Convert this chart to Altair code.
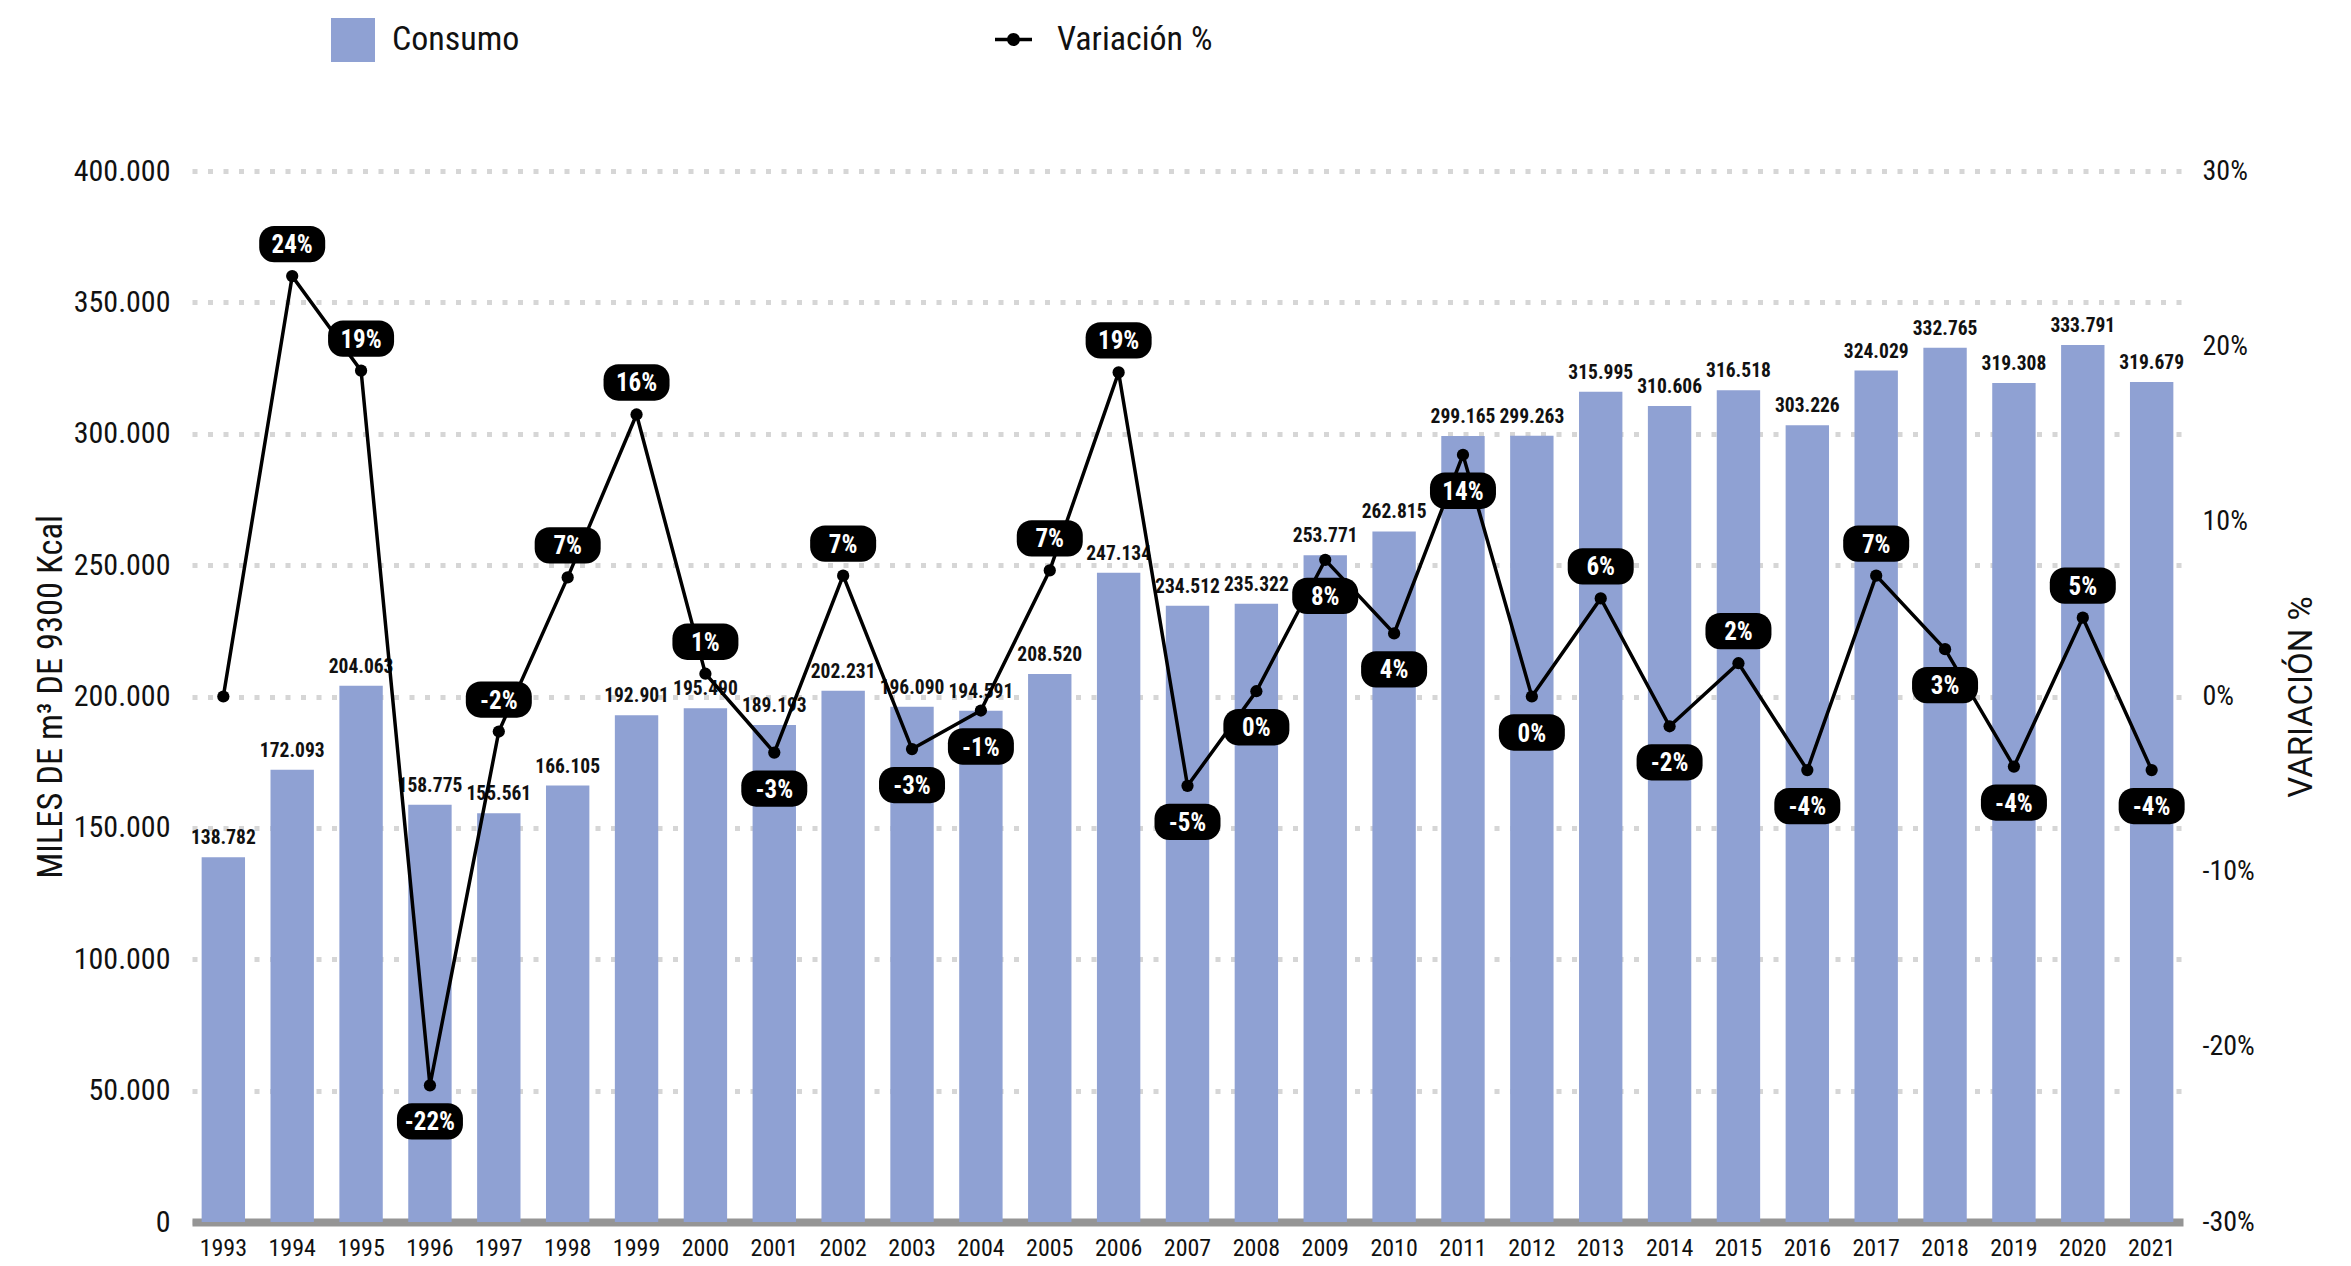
import altair as alt
import pandas as pd

# ---- data ----
anios = [1993, 1994, 1995, 1996, 1997, 1998, 1999, 2000, 2001, 2002,
         2003, 2004, 2005, 2006, 2007, 2008, 2009, 2010, 2011, 2012,
         2013, 2014, 2015, 2016, 2017, 2018, 2019, 2020, 2021]
consumo = [138782, 172093, 204063, 158775, 155561, 166105, 192901, 195490, 189193, 202231,
           196090, 194591, 208520, 247134, 234512, 235322, 253771, 262815, 299165, 299263,
           315995, 310606, 316518, 303226, 324029, 332765, 319308, 333791, 319679]
variacion = [0.0, 24.0, 18.6, -22.2, -2.0, 6.8, 16.1, 1.3, -3.2, 6.9,
             -3.0, -0.8, 7.2, 18.5, -5.1, 0.3, 7.8, 3.6, 13.8, 0.0,
             5.6, -1.7, 1.9, -4.2, 6.9, 2.7, -4.0, 4.5, -4.2]
# where the % label sits relative to its point
posicion = ["ninguna", "arriba", "arriba", "abajo", "arriba", "arriba", "arriba", "arriba", "abajo", "arriba",
            "abajo", "abajo", "arriba", "arriba", "abajo", "abajo", "abajo", "abajo", "abajo", "abajo",
            "arriba", "abajo", "arriba", "abajo", "arriba", "abajo", "abajo", "arriba", "abajo"]

df = pd.DataFrame({"anio": anios, "consumo": consumo, "var": variacion, "pos": posicion})

FONT = "'Roboto Condensed', 'Liberation Sans Narrow', 'DejaVu Sans Condensed', Roboto, sans-serif"
BAR_COLOR = "#8fa1d3"

PILL = ("M-0.55,-0.55 L0.55,-0.55 A0.45,0.45 0 0 1 1,-0.1 L1,0.1 "
        "A0.45,0.45 0 0 1 0.55,0.55 L-0.55,0.55 A0.45,0.45 0 0 1 -1,0.1 "
        "L-1,-0.1 A0.45,0.45 0 0 1 -0.55,-0.55 Z")
LEG_LINE = ("M-1,-0.1 L1,-0.1 L1,0.1 L-1,0.1 Z "
            "M-0.35,0 A0.35,0.35 0 1 1 0.35,0 A0.35,0.35 0 1 1 -0.35,0 Z")

base = alt.Chart(df).transform_calculate(
    serie_c="'Consumo'",
    serie_v="'Variación %'",
    etiqueta_c="replace(format(datum.consumo, ','), ',', '.')",
    etiqueta_v="toString(round(datum.var)) + '%'",
)

x_enc = alt.X(
    "anio:O",
    scale=alt.Scale(paddingInner=0.37, paddingOuter=0.14),
    axis=alt.Axis(title=None, labelAngle=0, ticks=False, domainColor="#959595",
                  domainWidth=8, labelFontSize=24, labelPadding=14, labelFont=FONT,
                  labelColor="#111111"),
)

y_left = alt.Y(
    "consumo:Q",
    scale=alt.Scale(domain=[0, 400000]),
    axis=alt.Axis(values=[0, 50000, 100000, 150000, 200000, 250000, 300000, 350000, 400000],
                  labelExpr="replace(format(datum.value, ','), ',', '.')",
                  title="MILES DE m³ DE 9300 Kcal", titleFont=FONT, titleFontSize=34.5,
                  titleFontWeight="normal", titleColor="#111111", titlePadding=5,
                  grid=True, gridColor="#d6d6d6", gridDash=[5, 10.5], gridWidth=5,
                  ticks=False, domain=False, labelFontSize=30, labelPadding=22,
                  labelFont=FONT, labelColor="#111111"),
)

y_right = alt.Y(
    "var:Q",
    scale=alt.Scale(domain=[-30, 30]),
    axis=alt.Axis(orient="right", values=[-30, -20, -10, 0, 10, 20, 30],
                  labelExpr="toString(datum.value) + '%'", grid=False, ticks=False,
                  domain=False, labelFontSize=28, labelPadding=19, labelFont=FONT,
                  labelColor="#111111",
                  title="VARIACIÓN %", titleAngle=270, titleBaseline="top",
                  titleFont="Roboto", titleFontSize=33, titleFontWeight="normal",
                  titleColor="#111111", titlePadding=31),
)

bars = base.mark_bar().encode(
    x=x_enc,
    y=y_left,
    fill=alt.Fill("serie_c:N", scale=alt.Scale(domain=["Consumo"], range=[BAR_COLOR]),
                  legend=alt.Legend(title=None, orient="none", legendX=139, legendY=-153,
                                    symbolType="square", symbolSize=1936, symbolStrokeWidth=0,
                                    labelFontSize=34, labelFont=FONT, labelOffset=17,
                                    labelColor="#111111")),
)

bar_labels = base.mark_text(dy=-13, baseline="alphabetic", fontWeight="bold", fontSize=19.5,
                            font=FONT, color="#111111").encode(
    x=x_enc,
    y=y_left,
    text="etiqueta_c:N",
)

left = alt.layer(bars, bar_labels)

line = base.mark_line(color="black", strokeWidth=3.5).encode(x=x_enc, y=y_right)

points = base.mark_point(filled=True, size=150, opacity=1).encode(
    x=x_enc,
    y=y_right,
    color=alt.Color("serie_v:N", scale=alt.Scale(domain=["Variación %"], range=["black"]),
                    legend=alt.Legend(title=None, orient="none", legendX=803, legendY=-150,
                                      symbolType=LEG_LINE, symbolSize=1369,
                                      symbolStrokeWidth=0, labelFontSize=34, labelFont=FONT,
                                      labelOffset=25, labelColor="#111111")),
)

layers = [line, points]
for lugar, off in (("arriba", -32), ("abajo", 36)):
    pill = base.transform_filter(alt.datum.pos == lugar).mark_point(
        shape=PILL, size=4356, filled=True, color="black", opacity=1, yOffset=off
    ).encode(x=x_enc, y=y_right)
    txt = base.transform_filter(alt.datum.pos == lugar).mark_text(
        color="white", fontWeight="bold", fontSize=25, font=FONT, baseline="middle",
        yOffset=off + 1
    ).encode(x=x_enc, y=y_right, text="etiqueta_v:N")
    layers += [pill, txt]

right = alt.layer(*layers)

chart = alt.layer(left, right).resolve_scale(
    y="independent"
).properties(
    width=1991,
    height=1051,
    autosize=alt.AutoSizeParams(type="none"),
    padding={"left": 184, "top": 163, "right": 150, "bottom": 40},
).configure_view(stroke=None)

chart.save("out.html", embed_options={"renderer": "svg", "actions": False})
